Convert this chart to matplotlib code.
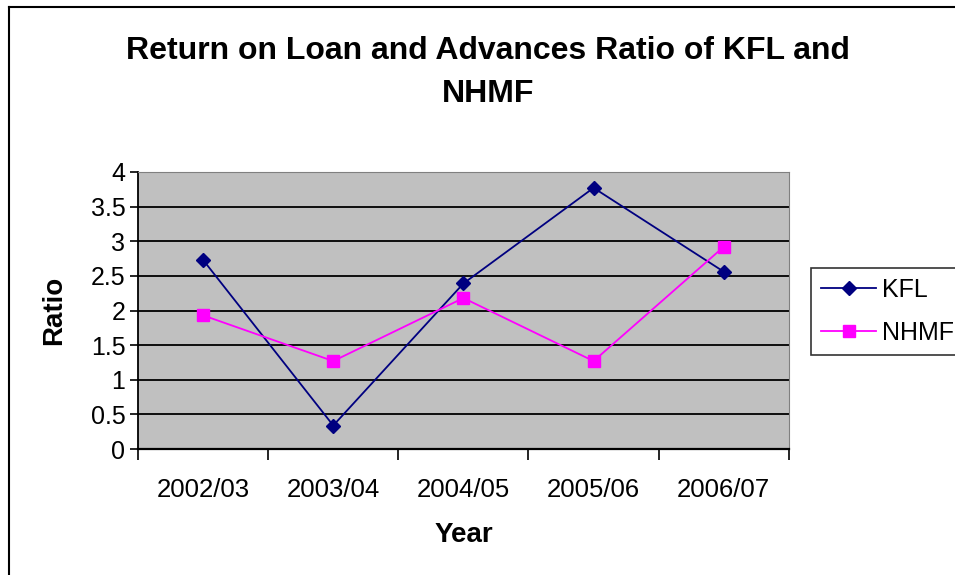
#! /usr/bin/env python

# Plotting
import matplotlib
matplotlib.use('Agg')
import matplotlib.pyplot as plt
from matplotlib.lines import Line2D

# Chart data
years = ['2002/03', '2003/04', '2004/05', '2005/06', '2006/07']
kfl = [2.73, 0.34, 2.39, 3.77, 2.56]
nhmf = [1.93, 1.27, 2.18, 1.27, 2.92]
y_ticks = [0, 0.5, 1, 1.5, 2, 2.5, 3, 3.5, 4]

plt.rcParams['font.family'] = ['Liberation Sans', 'DejaVu Sans']

# Figure with the Excel-like layout
fig = plt.figure(figsize=(9.55, 5.75), dpi=100)
ax = fig.add_axes([0.1445, 0.219, 0.6815, 0.482])
ax.set_facecolor('#C0C0C0')

# Category positions centred between the boundary ticks
x = [i + 0.5 for i in range(len(years))]
ax.plot(x, kfl, color='#000080', marker='D', markersize=7.5,
        linewidth=1.3, label='KFL', zorder=3)
ax.plot(x, nhmf, color='#FF00FF', marker='s', markersize=8.5,
        linewidth=1.3, label='NHMF', zorder=3)

ax.set_xlim(0, len(years))
ax.set_ylim(0, 4)

# Y axis ticks and horizontal grid
ax.set_yticks(y_ticks)
ax.set_yticklabels([f'{v:g}' for v in y_ticks])
ax.yaxis.grid(True, color='black', linewidth=1.3)
ax.set_axisbelow(True)
ax.tick_params(axis='y', direction='out', length=6, width=1.2,
               labelsize=18, pad=3)

# X axis: boundary ticks, labels at centres
ax.set_xticks(range(len(years) + 1))
ax.set_xticklabels([''] * (len(years) + 1))
ax.set_xticks(x, minor=True)
ax.set_xticklabels(years, minor=True)
ax.tick_params(axis='x', which='major', direction='out', length=8, width=1.2)
ax.tick_params(axis='x', which='minor', length=0, labelsize=18.5, pad=21)

# Spines
ax.spines['left'].set_color('black')
ax.spines['bottom'].set_color('black')
ax.spines['left'].set_linewidth(1.3)
ax.spines['bottom'].set_linewidth(1.6)
ax.spines['top'].set_color('#808080')
ax.spines['right'].set_color('#808080')

# Axis labels
ax.set_xlabel('Year', fontsize=20, fontweight='bold', labelpad=14)
ax.set_ylabel('Ratio', fontsize=20, fontweight='bold', labelpad=17)

# Title
fig.text(0.511, 0.874, 'Return on Loan and Advances Ratio of KFL and\nNHMF',
         ha='center', va='center', fontsize=23, fontweight='bold',
         linespacing=1.55)

# Legend at the right, partly cut by the figure edge
leg = ax.legend(loc='upper left', bbox_to_anchor=(811 / 955, 1 - 268 / 575),
                bbox_transform=fig.transFigure, fontsize=18, frameon=True,
                fancybox=False, edgecolor='black', borderpad=0.4,
                labelspacing=0.75, handlelength=2.2, handletextpad=0.25,
                borderaxespad=0)
leg.get_frame().set_linewidth(1.2)

# Outer chart border (left and top visible)
fig.add_artist(Line2D([9 / 955, 9 / 955], [0, 1 - 7 / 575],
                      transform=fig.transFigure, color='black', linewidth=1.5))
fig.add_artist(Line2D([9 / 955, 1], [1 - 7 / 575, 1 - 7 / 575],
                      transform=fig.transFigure, color='black', linewidth=1.5))

fig.savefig('out.png', dpi=100)
